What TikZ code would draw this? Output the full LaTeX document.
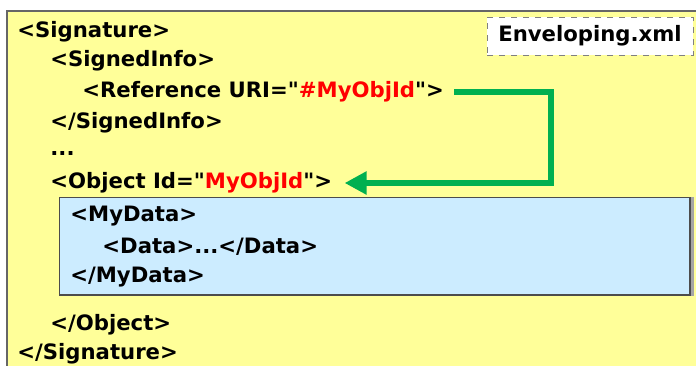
\documentclass[tikz,border=0pt]{standalone}
\usepackage{fontspec}
\setmainfont{DejaVu Sans}[Ligatures=TeXReset]
\usetikzlibrary{arrows.meta,positioning}

\definecolor{notepad}{RGB}{255,255,153}
\definecolor{datafill}{RGB}{204,236,255}
\definecolor{linkgreen}{RGB}{0,176,80}
\definecolor{idred}{RGB}{255,0,0}

\tikzset{
  xml/.style={anchor=west, inner sep=0pt, font=\bfseries\fontsize{10.6}{12}\selectfont},
  filetag/.style={draw=gray, dashed, fill=white, minimum width=103pt, minimum height=19pt,
    inner sep=0pt, font=\bfseries\fontsize{10.6}{12}\selectfont},
  link/.style={draw=linkgreen, line width=3.3pt, -{Triangle[length=11pt,width=11pt]}}
}

\begin{document}
\begin{tikzpicture}[x=0.5pt,y=-0.5pt]
    \useasboundingbox (0,0) rectangle (696,365);
    % page and the embedded object
    \fill[notepad] (6,10) rectangle (697,366);
    \draw[black!60, line width=1pt] (6.5,366) -- (6.5,10.5) -- (697,10.5);
    \fill[black!35] (62,197) rectangle (694,296);
    \filldraw[datafill, draw=black!70, line width=0.9pt] (59.5,197.5) rectangle (690,295);

    \node[filetag] (file) at (590,36) {Enveloping.xml};

    \node[xml] (sig)    at (17,32)  {<Signature>};
    \node[xml] (info)   at (50,61)  {<SignedInfo>};
    \node[xml] (ref)    at (82,92)  {<Reference URI="\textcolor{idred}{\#MyObjId}">};
    \node[xml] (infoend) at (50,123) {</SignedInfo>};
    \node[xml] (dots)   at (50,153) {...};
    \node[xml] (obj)    at (50,183) {<Object Id="\textcolor{idred}{MyObjId}">};
    \node[xml] (mydata) at (70,216) {<MyData>};
    \node[xml] (data)   at (102,247) {<Data>...</Data>};
    \node[xml] (mydataend) at (70,277) {</MyData>};
    \node[xml] (objend) at (50,325) {</Object>};
    \node[xml] (sigend) at (17,354) {</Signature>};

    % reference back to the object id
    \coordinate (bend) at (551,130);
    \path[link, shorten <=5pt, shorten >=6pt] (ref.east) -| (bend) |- (obj.east);
\end{tikzpicture}
\end{document}
